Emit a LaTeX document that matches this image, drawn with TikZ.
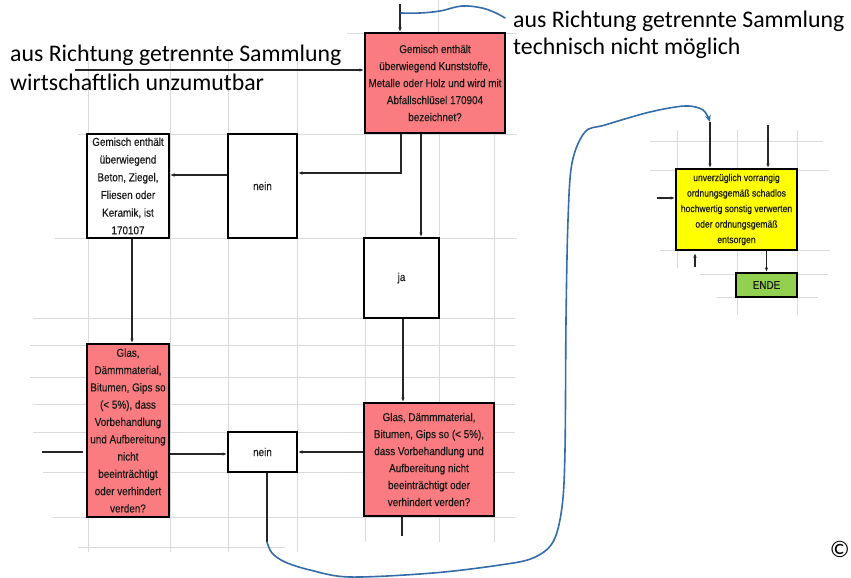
\documentclass[tikz,border=0pt]{standalone}
\usepackage{fontspec}
\setmainfont{Carlito}
\newfontfamily\boxfont[FakeStretch=0.86,FakeBold=0.3]{Liberation Sans}
\usetikzlibrary{arrows.meta}
\definecolor{boxred}{RGB}{250,124,128}
\definecolor{boxyel}{RGB}{255,255,0}
\definecolor{boxgreen}{RGB}{146,208,80}
\definecolor{ink}{RGB}{52,108,170}
\definecolor{gridc}{RGB}{218,218,218}
\begin{document}
\begin{tikzpicture}[x=1pt,y=-1pt,
  gridline/.style={draw=gridc, line width=0.9pt},
  fbox/.style={draw=black, line width=2pt, inner sep=0pt, align=center, text=black!90, font=\boxfont\fontsize{11.5}{17}\selectfont},
  redbox/.style={fbox, fill=boxred},
  whitebox/.style={fbox, fill=white},
  conn/.style={draw=black!85, line width=1.1pt},
  arr/.style={conn, -{Latex[length=4.5pt,width=3.5pt]}},
  pen/.style={draw=ink, line width=1.6pt, line cap=round, line join=round},
  big/.style={font=\fontsize{23.8}{28}\selectfont, inner sep=0pt, anchor=base west}
]
\useasboundingbox (0,0) rectangle (851,578);

% grid
\foreach \x in {88,170,228,297} \draw[gridline] (\x,50) -- (\x,552);
\foreach \x in {365,439,494} \draw[gridline] (\x,33) -- (\x,542);
\draw[gridline] (438,0) -- (438,33);
\draw[gridline] (347,33) -- (517,33);
\draw[gridline] (78,134) -- (517,134);
\draw[gridline] (55,238) -- (517,238);
\foreach \y/\a in {318/33,345/30,377/30,404/33,432/33,472/43,517/53} \draw[gridline] (\a,\y) -- (515,\y);
\draw[gridline] (78,547) -- (285,547);
\draw[gridline] (650,141) -- (823,141);
\draw[gridline] (650,170) -- (829,170);
\draw[gridline] (660,250) -- (830,250);
\draw[gridline] (700,274) -- (828,274);
\draw[gridline] (717,297) -- (818,297);
\draw[gridline] (677,130) -- (677,268);
\draw[gridline] (737,130) -- (737,315);
\draw[gridline] (797,130) -- (797,315);

% boxes
\node[redbox, minimum width=140pt, minimum height=100pt] (gem) at (435,83) {Gemisch enthält\\überwiegend Kunststoffe,\\Metalle oder Holz und wird mit\\Abfallschlüsel 170904\\bezeichnet?};
\node[whitebox, minimum width=82pt, minimum height=104pt, font=\boxfont\fontsize{11.5}{17.7}\selectfont] (beton) at (128,186) {Gemisch enthält\\überwiegend\\Beton, Ziegel,\\Fliesen oder\\Keramik, ist\\170107};
\node[whitebox, minimum width=69pt, minimum height=104pt] (nein1) at (262.5,186) {nein};
\node[whitebox, minimum width=75pt, minimum height=80pt] (ja) at (401.5,278) {ja};
\node[redbox, minimum width=82pt, minimum height=173pt, font=\boxfont\fontsize{11.5}{17.3}\selectfont] (glas1) at (128,430.5) {Glas,\\Dämmmaterial,\\Bitumen, Gips so\\(< 5\%), dass\\Vorbehandlung\\und Aufbereitung\\nicht\\beeinträchtigt\\oder verhindert\\verden?};
\node[whitebox, minimum width=69pt, minimum height=40pt] (nein2) at (262.5,452) {nein};
\node[redbox, minimum width=130pt, minimum height=113pt] (glas2) at (429,459.5) {Glas, Dämmmaterial,\\Bitumen, Gips so (< 5\%),\\dass Vorbehandlung und\\Aufbereitung nicht\\beeinträchtigt oder\\verhindert verden?};
\node[fbox, fill=boxyel, minimum width=121pt, minimum height=81pt, font=\boxfont\fontsize{10}{15.5}\selectfont] (yel) at (736.5,209.5) {unverzüglich vorrangig\\ordnungsgemäß schadlos\\hochwertig sonstig verwerten\\oder ordnungsgemäß\\entsorgen};
\node[fbox, fill=boxgreen, minimum width=61pt, minimum height=24pt] (ende) at (766.5,285) {ENDE};

% big texts
\node[big] (lt1) at (10,62) {aus Richtung getrennte Sammlung};
\node[big] (lt2) at (10,90) {wirtschaftlich unzumutbar};
\node[big] (rt1) at (513,28) {aus Richtung getrennte Sammlung};
\node[big] (rt2) at (513,55) {technisch nicht möglich};
\node[big, anchor=base east] (copy) at (850,557) {©};

% connectors
\coordinate (la) at (75,70);
\draw[arr] (la) -- (la -| gem.west);
\coordinate (ta) at (400,4);
\draw[arr] (ta) -- (ta |- gem.north);
\draw[arr] ([xshift=-34pt]gem.south) |- ([yshift=13pt]nein1.east);
\draw[arr] ([yshift=11pt]nein1.west) -- ([yshift=11pt]beton.east);
\draw[arr] ([xshift=-14pt]gem.south) -- ([xshift=-14pt]gem.south |- ja.north);
\draw[arr] ([xshift=1.5pt]ja.south) -- ([xshift=1.5pt]ja.south |- glas2.north);
\draw[arr] ([xshift=4pt]beton.south) -- ([xshift=4pt]beton.south |- glas1.north);
\draw[arr] (nein2.east -| glas2.west) -- (nein2.east);
\draw[arr] ([yshift=-2pt]nein2.west -| glas1.east) -- ([yshift=-2pt]nein2.west);
\coordinate (lft) at (42,452);
\draw[conn] (lft) -- ++(41,0);
\draw[conn] ([xshift=-27pt]glas2.south) -- ++(0,19);
\coordinate (bs) at (267,542);
\draw[conn] (nein2.south -| bs) -- (bs);

% hand-drawn blue lines
\draw[pen] plot[smooth, tension=0.6] coordinates {(401,13) (420,13) (440,11) (462,6) (482,8) (496,13) (505,18)};
\coordinate (bend) at (710,122);
\draw[pen, -{Stealth[length=7pt,width=6pt]}] plot[smooth, tension=0.55] coordinates {(bs) (272,553) (285,562) (310,570) (350,577) (433,573) (500,565) (533,558) (553,542) (562,507) (565,450) (566,320) (568,220) (572,163) (585,132) (605,125) (650,112) (685,106) (703,110) (bend)};

% right side connectors
\draw[arr] (bend) -- (bend |- yel.north);
\coordinate (yt) at (768,125);
\draw[arr] (yt) -- (yt |- yel.north);
\coordinate (yl) at (657,198);
\draw[arr] (yl) -- (yl -| yel.west);
\coordinate (yb) at (695,267);
\draw[arr] (yb) -- ++(0,-14);
\draw[arr] (ende.north |- yel.south) -- (ende.north);
\end{tikzpicture}
\end{document}
